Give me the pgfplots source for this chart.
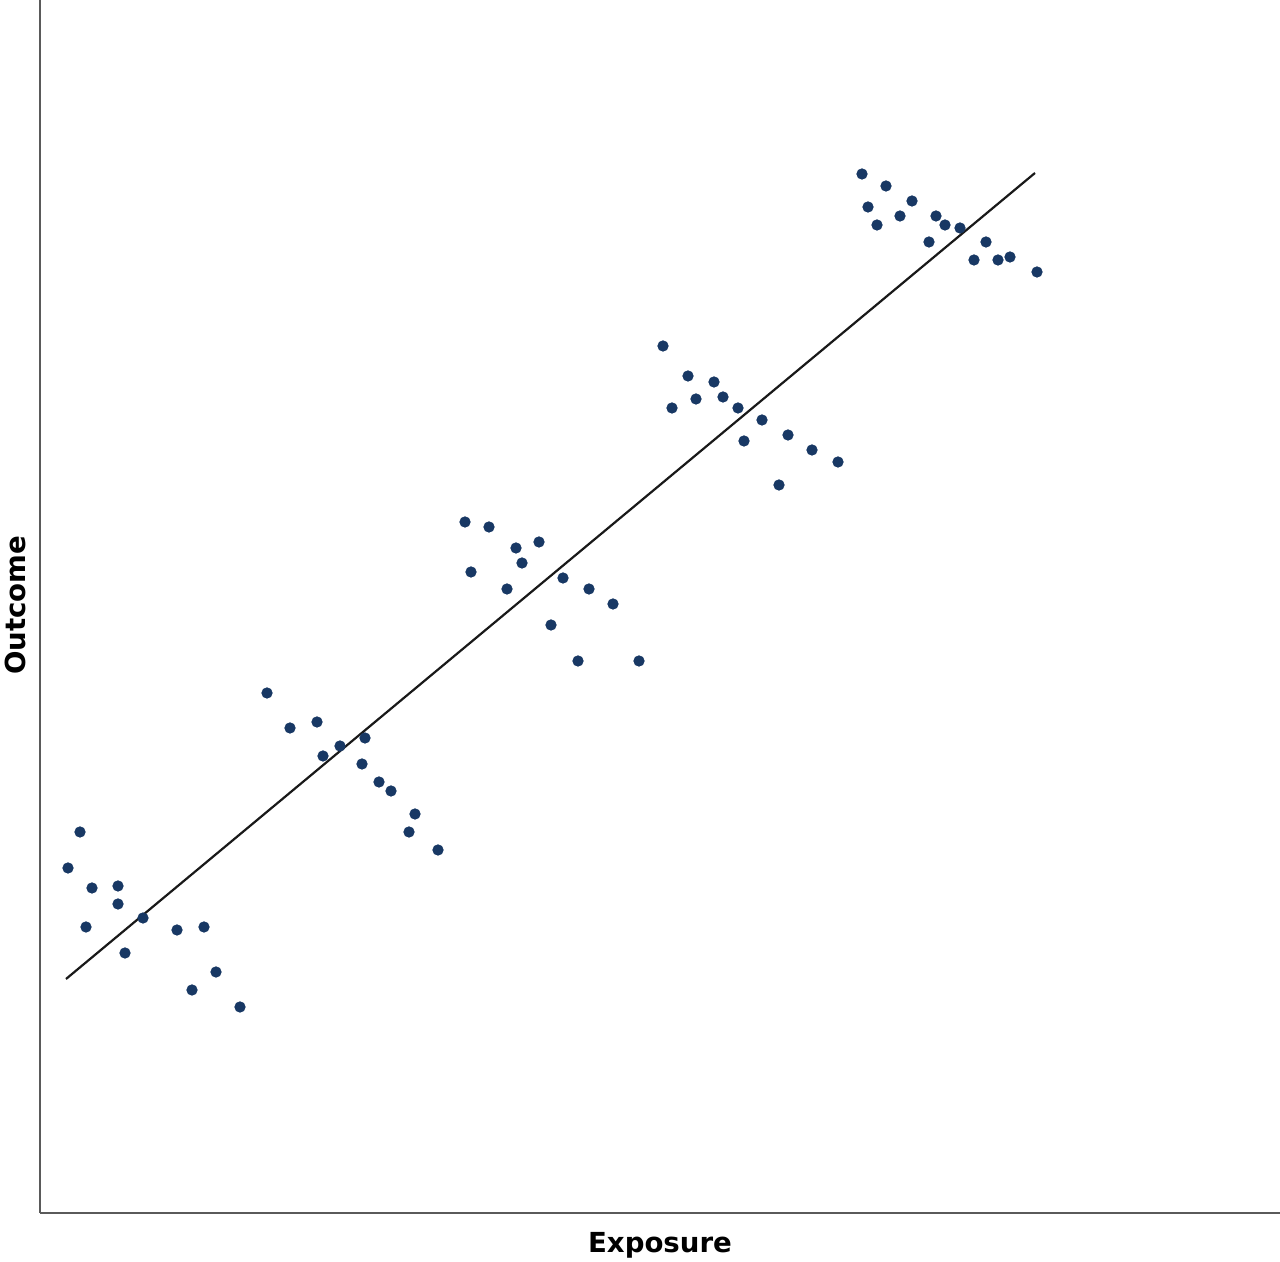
\documentclass[border=0pt]{standalone}
\usepackage{pgfplots}
\pgfplotsset{compat=1.18}
\usepackage{fontspec}
\setmainfont{DejaVu Sans}
\definecolor{dotblue}{RGB}{24,56,100}
\definecolor{axgray}{RGB}{90,90,90}
\begin{document}
\begin{tikzpicture}
\begin{axis}[
  at={(0,0)}, anchor=south west,
  scale only axis,
  width=620pt, height=606.5pt,
  xmin=40, xmax=1280, ymin=49, ymax=1262,
  axis x line=bottom, axis y line=left,
  axis line style={-, axgray, line width=1pt},
  xtick=\empty, ytick=\empty,
  clip=false,
  xlabel={Exposure}, ylabel={Outcome},
  label style={font=\fontsize{13.8}{16}\selectfont\bfseries},
  xlabel style={at={(axis description cs:0.5,0)}, anchor=center, yshift=-16pt},
  ylabel style={at={(axis description cs:0,0.501)}, anchor=center, yshift=12.5pt},
]
\addplot[black!90, line width=1.1pt] coordinates {(66,283) (1035,1089)};
\addplot[only marks, mark=*, mark size=2.6pt, color=dotblue, mark options={draw=dotblue, fill=dotblue}] table[y expr=1262-\thisrow{py}] {
px py
80 832
68 868
92 888
118 886
118 904
86 927
143 918
125 953
177 930
204 927
216 972
192 990
240 1007
267 693
290 728
317 722
323 756
340 746
365 738
362 764
379 782
391 791
415 814
409 832
438 850
465 522
489 527
516 548
539 542
522 563
471 572
507 589
563 578
589 589
613 604
551 625
578 661
639 661
663 346
688 376
714 382
672 408
696 399
723 397
738 408
762 420
744 441
788 435
812 450
838 462
779 485
862 174
886 186
868 207
877 225
900 216
912 201
936 216
945 225
960 228
929 242
986 242
974 260
998 260
1010 257
1037 272
};
\end{axis}
\pgfresetboundingbox
\useasboundingbox (-20pt,-24.5pt) rectangle (620pt,606.5pt);
\end{tikzpicture}
\end{document}
